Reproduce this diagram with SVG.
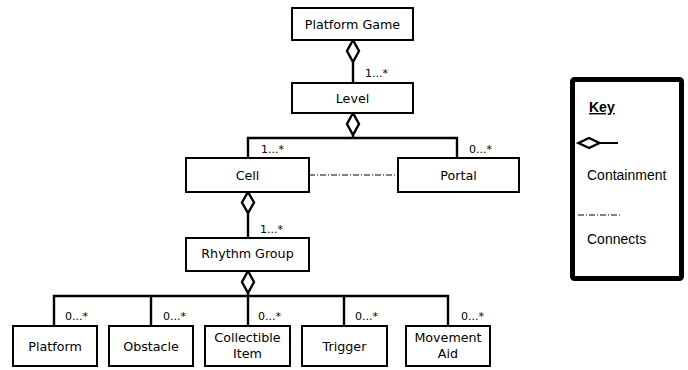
<svg xmlns="http://www.w3.org/2000/svg" width="688" height="370" viewBox="0 0 688 370">
<style>
.box{fill:#fff;stroke:#000;stroke-width:2}
.lbl{font-family:"DejaVu Sans",Verdana,sans-serif;font-size:12.7px;fill:#000;text-anchor:middle}
.mul{font-family:"DejaVu Sans",Verdana,sans-serif;font-size:11px;fill:#000}
.ln{fill:none;stroke:#000;stroke-width:2.4}
.dia{fill:#fff;stroke:#000;stroke-width:2.4;stroke-linejoin:miter}
.dd{fill:none;stroke:#000;stroke-width:1;stroke-dasharray:6 2 1 2}
.key{font-family:"Liberation Sans",Arial,sans-serif;font-size:14px;fill:#000}
</style>
<rect width="688" height="370" fill="#fff"/>
<g id="connectors">
  <line class="ln" x1="353" y1="62" x2="353" y2="83"/>
  <polygon class="dia" points="353,40 359,51 353,62 347,51"/>
  <polyline class="ln" points="248,158 248,138 457,138 457,158"/>
  <line class="ln" x1="353" y1="135" x2="353" y2="138"/>
  <polygon class="dia" points="353,113 359,124 353,135 347,124"/>
  <line class="dd" x1="309" y1="175" x2="398" y2="175"/>
  <line class="ln" x1="248" y1="213" x2="248" y2="238"/>
  <polygon class="dia" points="248,192 254,202.5 248,213 242,202.5"/>
  <polyline class="ln" points="54,326 54,296 448,296 448,326"/>
  <line class="ln" x1="151" y1="296" x2="151" y2="326"/>
  <line class="ln" x1="248" y1="293" x2="248" y2="326"/>
  <line class="ln" x1="344" y1="296" x2="344" y2="326"/>
  <polygon class="dia" points="248,271 254,282 248,293 242,282"/>
  <text class="mul" x="365" y="77">1...*</text>
  <text class="mul" x="261" y="153">1...*</text>
  <text class="mul" x="469" y="153">0...*</text>
  <text class="mul" x="260" y="233">1...*</text>
  <text class="mul" x="65" y="320">0...*</text>
  <text class="mul" x="163" y="320">0...*</text>
  <text class="mul" x="258" y="320">0...*</text>
  <text class="mul" x="355" y="320">0...*</text>
  <text class="mul" x="461" y="320">0...*</text>
</g>
<g id="platform-game"><rect class="box" x="292" y="8" width="121" height="32"/><text class="lbl" x="352.5" y="29">Platform Game</text></g>
<g id="level"><rect class="box" x="292" y="83" width="121" height="30"/><text class="lbl" x="352.5" y="103">Level</text></g>
<g id="cell"><rect class="box" x="186" y="158" width="123" height="34"/><text class="lbl" x="247.5" y="180">Cell</text></g>
<g id="portal"><rect class="box" x="398" y="158" width="121" height="34"/><text class="lbl" x="458.5" y="180">Portal</text></g>
<g id="rhythm-group"><rect class="box" x="186" y="238" width="123" height="33"/><text class="lbl" x="247.5" y="258">Rhythm Group</text></g>
<g id="platform"><rect class="box" x="13" y="326" width="84" height="40"/><text class="lbl" x="55" y="351">Platform</text></g>
<g id="obstacle"><rect class="box" x="109" y="326" width="84" height="40"/><text class="lbl" x="151" y="351">Obstacle</text></g>
<g id="collectible-item"><rect class="box" x="205" y="326" width="85" height="40"/><text class="lbl" x="247.5" y="342">Collectible</text><text class="lbl" x="247.5" y="358">Item</text></g>
<g id="trigger"><rect class="box" x="302" y="326" width="85" height="40"/><text class="lbl" x="344.5" y="351">Trigger</text></g>
<g id="movement-aid"><rect class="box" x="406" y="326" width="84" height="40"/><text class="lbl" x="448" y="342">Movement</text><text class="lbl" x="448" y="358">Aid</text></g>
<g id="key">
  <rect x="572.5" y="79.5" width="109" height="199" rx="2" fill="#fff" stroke="#000" stroke-width="5"/>
  <text class="key" x="589" y="112" font-weight="bold" text-decoration="underline">Key</text>
  <polygon points="578.5,143 589,138 599.5,143 589,148" fill="#fff" stroke="#000" stroke-width="2.4"/>
  <line x1="599.5" y1="143" x2="618" y2="143" stroke="#000" stroke-width="2"/>
  <text class="key" x="587" y="180">Containment</text>
  <line class="dd" x1="578" y1="215" x2="622" y2="215"/>
  <text class="key" x="587" y="244">Connects</text>
</g>
</svg>
